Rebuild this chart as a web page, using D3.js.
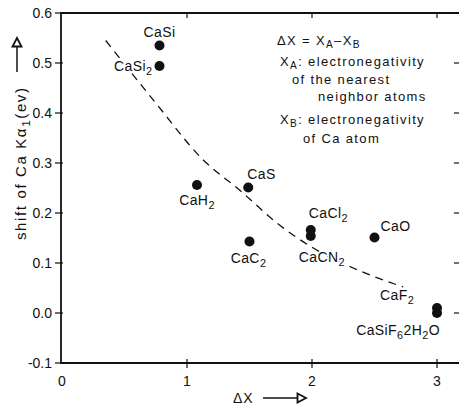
<!DOCTYPE html>
<html><head><meta charset="utf-8">
<script src="https://cdn.jsdelivr.net/npm/d3@7"></script>
<style>
body{margin:0;background:#fff}
svg{display:block}
text{font-family:"Liberation Sans",Arial,sans-serif;fill:#111}
</style>
</head><body>
<svg id="c" width="459" height="405"></svg>
<script>
// ---- data ----
const compounds = ["CaSi","CaSi_2","CaH_2","CaS","CaC_2","CaCl_2","CaCN_2","CaO","CaF_2","CaSiF_62H_2O"];
const deltaX    = [0.78, 0.78, 1.08, 1.49, 1.50, 1.99, 1.99, 2.50, 3.00, 3.00];
const shiftEV   = [0.535,0.494,0.256,0.251,0.143,0.166,0.154,0.151,0.010,0.000];
const trendX    = [0.35, 0.75, 1.13, 1.42, 1.74, 2.01, 2.33, 2.73];
const trendY    = [0.545,0.42, 0.306,0.246,0.176,0.13, 0.09, 0.052];
const xTicks    = [0,1,2,3];
const xTickLabels = ["0","1","2","3"];
const yTicks    = [-0.1,0,0.1,0.2,0.3,0.4,0.5,0.6];
const yTickLabels = ["-0.1","0.0","0.1","0.2","0.3","0.4","0.5","0.6"];
const noteLines = ["ΔX = X_A–X_B","X_A: electronegativity","of the nearest","neighbor atoms","X_B: electronegativity","of Ca atom"];
const yTitle = "shift of Ca Kα_1(ev)";
const xTitle = "ΔX";

// ---- layout (not data) ----
const labelPos = {
  "CaSi":[ "middle",0,-9],
  "CaSi_2":["end",-7,5],
  "CaH_2":["middle",0,20],
  "CaS":["start",-1,-9],
  "CaC_2":["middle",-1,21],
  "CaCl_2":["start",-2,-12],
  "CaCN_2":["start",-12,26],
  "CaO":["start",6,-7],
  "CaF_2":["start",-57,-8],
  "CaSiF_62H_2O":["end",3,22]
};
const notePos = [[277,45],[280,66],[292,84],[318,101],[280,124],[303,143]];

const svg = d3.select("#c");
const L=61, T=13, R=459, B=363;
const x = d3.scaleLinear().domain([0,3]).range([62,437]);
const y = d3.scaleLinear().domain([-0.1,0.6]).range([B,T]);

// text with single-character subscripts marked by "_"
function rich(sel, str, subShift){
  const parts = str.split(/(_.)/).filter(s=>s.length);
  let pending = 0;
  parts.forEach(p=>{
    if(p[0]==="_"){
      sel.append("tspan").attr("dy",subShift).attr("font-size","0.78em").text(p[1]);
      pending = -subShift;
    } else {
      const t = sel.append("tspan").text(p);
      if(pending){ t.attr("dy",pending); pending = 0; }
    }
  });
}

// frame
const g = svg.append("g").attr("stroke","#111").attr("fill","none");
g.append("path").attr("d",`M${R},${T}H${L}V${B}H${R}`).attr("stroke-width",1.8);

// axis ticks + labels
yTicks.forEach((v,i)=>{
  g.append("line").attr("x1",55).attr("x2",L+2).attr("y1",y(v)).attr("y2",y(v)).attr("stroke-width",1.2);
  g.append("line").attr("x1",454).attr("x2",459).attr("y1",y(v)).attr("y2",y(v)).attr("stroke-width",1.2);
  svg.append("text").attr("x",52).attr("y",y(v)).attr("dy","0.36em").attr("text-anchor","end")
    .attr("font-size",14).text(yTickLabels[i]);
});
xTicks.forEach((v,i)=>{
  if(v>0){
    g.append("line").attr("x1",x(v)).attr("x2",x(v)).attr("y1",B-4).attr("y2",B+5).attr("stroke-width",1.2);
    g.append("line").attr("x1",x(v)).attr("x2",x(v)).attr("y1",T).attr("y2",T+5).attr("stroke-width",1.2);
  }
  svg.append("text").attr("x",x(v)).attr("y",386).attr("text-anchor","middle")
    .attr("font-size",14).text(xTickLabels[i]);
});

// trend dashed curve
const pts = trendX.map((v,i)=>[x(v),y(trendY[i])]);
svg.append("path").attr("d",d3.line().curve(d3.curveMonotoneX)(pts))
  .attr("fill","none").attr("stroke","#111").attr("stroke-width",1.3).attr("stroke-dasharray","8,6");

// points
svg.selectAll("circle.p").data(compounds).join("circle").attr("class","p")
  .attr("cx",(d,i)=>x(deltaX[i])).attr("cy",(d,i)=>y(shiftEV[i])).attr("r",5).attr("fill","#111");

// point labels
compounds.forEach((c,i)=>{
  const p = labelPos[c];
  const t = svg.append("text").attr("x",x(deltaX[i])+p[1]).attr("y",y(shiftEV[i])+p[2])
    .attr("text-anchor",p[0]).attr("font-size",14).attr("letter-spacing",0.4)
    .attr("stroke","#fff").attr("stroke-width",3).attr("paint-order","stroke");
  rich(t,c,4);
});

// notes
noteLines.forEach((s,i)=>{
  const t = svg.append("text").attr("x",notePos[i][0]).attr("y",notePos[i][1])
    .attr("font-size",13).attr("letter-spacing",1.35);
  rich(t,s,3);
});

// y label
const yl = svg.append("text").attr("transform","translate(26,240) rotate(-90)")
  .attr("font-size",15).attr("textLength",152).attr("lengthAdjust","spacing");
rich(yl,yTitle,4);
svg.append("line").attr("x1",17).attr("x2",17).attr("y1",46).attr("y2",72).attr("stroke","#111").attr("stroke-width",1.5);
svg.append("path").attr("d","M17,38L12.5,46.5H21.5Z").attr("fill","#fff").attr("stroke","#111").attr("stroke-width",1.8);

// x label
svg.append("text").attr("x",233).attr("y",403).attr("font-size",14).attr("letter-spacing",1).text(xTitle);
svg.append("line").attr("x1",263).attr("x2",298).attr("y1",398).attr("y2",398).attr("stroke","#111").attr("stroke-width",1.5);
svg.append("path").attr("d","M306,398L297.5,393.5V402.5Z").attr("fill","#fff").attr("stroke","#111").attr("stroke-width",1.8);
</script>
</body></html>
